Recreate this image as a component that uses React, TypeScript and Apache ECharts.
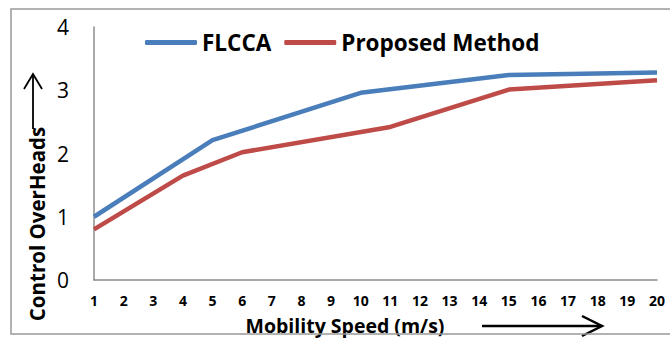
import React, { useEffect, useRef } from "react";
import * as echarts from "echarts";

const categories = ["1","2","3","4","5","6","7","8","9","10","11","12","13","14","15","16","17","18","19","20"];
const flcca = [1.0, null, null, null, 2.21, null, null, null, null, 2.96, null, null, null, null, 3.24, null, null, null, null, 3.28];
const proposed = [0.8, null, null, 1.65, null, 2.02, null, null, null, null, 2.42, null, null, null, 3.01, null, null, null, null, 3.16];
const yTicks = { min: 0, max: 4, interval: 1 };

const FONT = "'Open Sans', 'Liberation Sans', sans-serif";

export default function App() {
  const ref = useRef<HTMLDivElement>(null);
  useEffect(() => {
    if (!ref.current) return;
    const chart = echarts.init(ref.current, null, { renderer: "svg" });
    chart.setOption({
      animation: false,
      backgroundColor: "#fff",
      grid: { left: 94, right: 13, top: 27, bottom: 58 },
      legend: {
        left: 145,
        top: 31,
        padding: 0,
        itemWidth: 52,
        itemHeight: 5,
        itemGap: 13,
        icon: "roundRect",
        textStyle: { fontFamily: FONT, fontWeight: "bold", fontSize: 22.5, color: "#000" },
        data: ["FLCCA", "Proposed Method"],
      },
      xAxis: {
        type: "category",
        data: categories,
        boundaryGap: false,
        axisLine: { lineStyle: { color: "#8c8c8c", width: 1.5 } },
        axisTick: { show: false },
        axisLabel: { fontFamily: FONT, fontWeight: "bold", fontSize: 14, color: "#000", margin: 13, interval: 0 },
        splitLine: { show: false },
      },
      yAxis: {
        type: "value",
        min: yTicks.min,
        max: yTicks.max,
        interval: yTicks.interval,
        axisLine: { show: true, lineStyle: { color: "#8c8c8c", width: 1.5 } },
        axisTick: { show: false },
        axisLabel: { fontFamily: FONT, fontSize: 21, color: "#000", margin: 25 },
        splitLine: { show: false },
      },
      series: [
        {
          name: "FLCCA",
          type: "line",
          data: flcca,
          connectNulls: true,
          showSymbol: false,
          symbol: "none",
          lineStyle: { color: "#4A7EBB", width: 4.5 },
          itemStyle: { color: "#4A7EBB" },
        },
        {
          name: "Proposed Method",
          type: "line",
          data: proposed,
          connectNulls: true,
          showSymbol: false,
          symbol: "none",
          lineStyle: { color: "#BE4B48", width: 4.5 },
          itemStyle: { color: "#BE4B48" },
        },
      ],
      graphic: [
        {
          type: "rect",
          shape: { x: 11, y: 9, width: 700, height: 325 },
          style: { fill: "none", stroke: "#999", lineWidth: 1.5 },
          z: 100,
        },
        {
          type: "text",
          x: 37,
          y: 224,
          rotation: Math.PI / 2,
          style: {
            text: "Control OverHeads",
            fontFamily: FONT,
            fontWeight: "bold",
            fontSize: 20.5,
            fill: "#000",
            align: "center",
            verticalAlign: "middle",
          },
        },
        {
          type: "line",
          shape: { x1: 33, y1: 129, x2: 33, y2: 74 },
          style: { stroke: "#000", lineWidth: 1.8 },
        },
        {
          type: "polyline",
          shape: { points: [[24, 89], [33, 74], [42, 89]] },
          style: { stroke: "#000", lineWidth: 1.8, fill: "none" },
        },
        {
          type: "text",
          x: 345,
          y: 325,
          style: {
            text: "Mobility Speed (m/s)",
            fontFamily: FONT,
            fontWeight: "bold",
            fontSize: 19.5,
            fill: "#000",
            align: "center",
            verticalAlign: "middle",
          },
        },
        {
          type: "line",
          shape: { x1: 482, y1: 326, x2: 601, y2: 326 },
          style: { stroke: "#000", lineWidth: 2.5 },
        },
        {
          type: "polyline",
          shape: { points: [[582, 316], [602, 326], [582, 336]] },
          style: { stroke: "#000", lineWidth: 2.5, fill: "none" },
        },
      ],
    });
    return () => chart.dispose();
  }, []);
  return <div ref={ref} style={{ width: 670, height: 338, position: "absolute", left: 0, top: 0 }} />;
}
